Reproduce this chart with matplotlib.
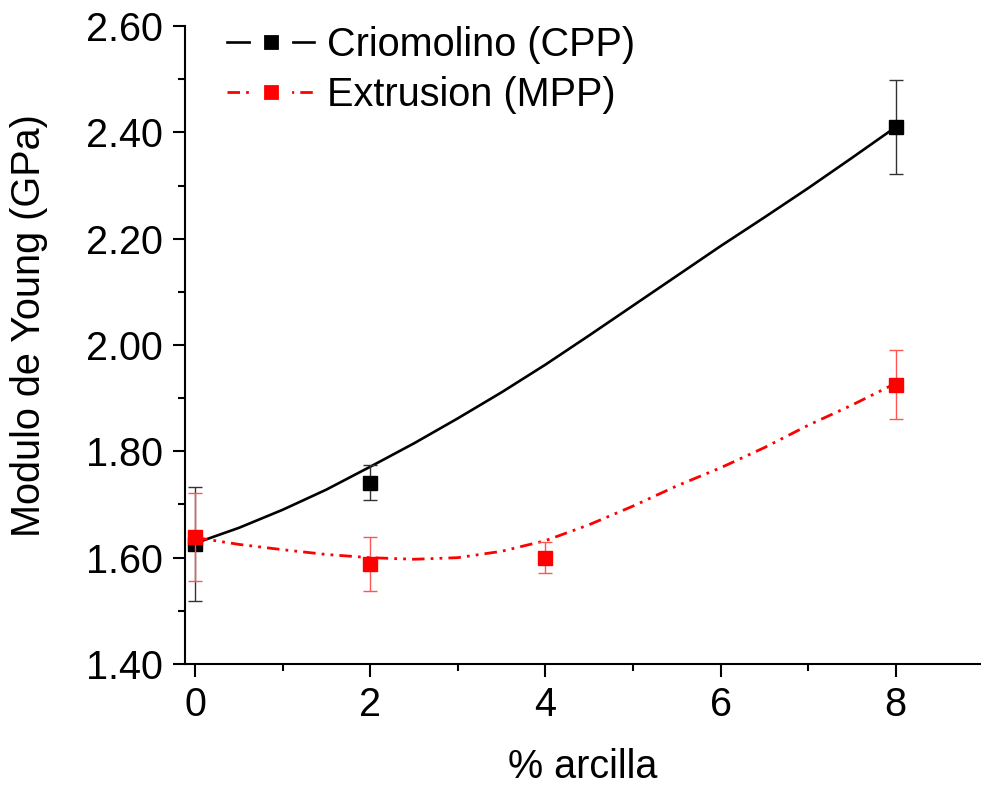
import matplotlib
matplotlib.use('Agg')
import matplotlib.pyplot as plt
from matplotlib.lines import Line2D
from matplotlib.ticker import MultipleLocator, FormatStrFormatter

plt.rcParams['font.family'] = ['Liberation Sans', 'DejaVu Sans']

x_cpp = [0, 2, 8]
y_cpp = [1.625, 1.741, 2.410]
e_cpp = [0.107, 0.033, 0.089]

x_mpp = [0, 2, 4, 8]
y_mpp = [1.639, 1.588, 1.600, 1.925]
e_mpp = [0.082, 0.050, 0.029, 0.065]

# fitted curves
fit_x = [0, 0.5, 1, 1.5, 2, 2.5, 3, 3.5, 4, 4.5, 5, 5.5, 6, 6.5, 7, 7.5, 8]
fit_cpp = [1.627, 1.656, 1.690, 1.728, 1.771, 1.815, 1.862, 1.911, 1.963,
           2.018, 2.074, 2.130, 2.186, 2.240, 2.295, 2.352, 2.410]
fit_mpp = [1.638, 1.625, 1.615, 1.606, 1.600, 1.597, 1.600, 1.612, 1.632,
           1.662, 1.697, 1.735, 1.769, 1.807, 1.849, 1.887, 1.928]

labels = ['Criomolino (CPP)', 'Extrusion (MPP)']
x_ticks = [0, 2, 4, 6, 8]

FS = 28.5
RED = '#ff0000'
DASHDOTDOT = (0, (4.5, 2.2, 1.0, 2.2, 1.0, 2.2))

fig = plt.figure(figsize=(9.81, 7.85), dpi=100)
ax = fig.add_axes([185 / 981, 121 / 785, 796 / 981, 638 / 785])

# CPP
ax.plot(fit_x, fit_cpp, color='black', lw=1.9, zorder=2,
        solid_joinstyle='round')
ax.errorbar(x_cpp, y_cpp, yerr=e_cpp, fmt='none', ecolor='#333333',
            elinewidth=1.0, capsize=5, capthick=1.0, zorder=3)
ax.plot(x_cpp, y_cpp, 's', color='black', ms=10, mec='black', zorder=4)

# MPP
ax.plot(fit_x, fit_mpp, color=RED, lw=2.0, linestyle=DASHDOTDOT, zorder=5)
ax.errorbar(x_mpp, y_mpp, yerr=e_mpp, fmt='none', ecolor='#ff5555',
            elinewidth=1.0, capsize=5, capthick=1.0, zorder=6)
ax.plot(x_mpp, y_mpp, 's', color=RED, ms=10, mec=RED, zorder=7)

ax.set_xlim(-0.114, 8.973)
ax.set_ylim(1.40, 2.60)
ax.set_xticks(x_ticks)
ax.xaxis.set_minor_locator(MultipleLocator(1))
ax.yaxis.set_major_locator(MultipleLocator(0.2))
ax.yaxis.set_minor_locator(MultipleLocator(0.1))
ax.yaxis.set_major_formatter(FormatStrFormatter('%.2f'))

for s in ['top', 'right']:
    ax.spines[s].set_visible(False)
for s in ['left', 'bottom']:
    ax.spines[s].set_linewidth(1.5)

ax.tick_params(which='major', direction='out', length=9, width=1.5,
               labelsize=FS)
ax.tick_params(which='minor', direction='out', length=5, width=1.5)
ax.tick_params(axis='x', which='major', pad=7)
ax.tick_params(axis='y', which='major', pad=7)

ax.set_xlabel('% arcilla', fontsize=FS)
ax.set_ylabel('Modulo de Young (GPa)', fontsize=FS)
ax.xaxis.set_label_coords(0.5, -0.131)
ax.yaxis.set_label_coords(-0.172, 0.53)

h1 = Line2D([], [], color='black', lw=1.9, marker='s', ms=19.5,
            mfc='black', mec='white', mew=9.5)
h2 = Line2D([], [], color=RED, lw=2.0, linestyle=DASHDOTDOT, marker='s',
            ms=19.5, mfc=RED, mec='white', mew=9.5)
ax.legend([h1, h2], labels, loc='upper left', bbox_to_anchor=(0.053, 1.0),
          frameon=False, fontsize=FS, handlelength=2.2, handletextpad=0.32,
          labelspacing=0.3, borderpad=0, borderaxespad=0)

fig.savefig('out.png', dpi=100)
